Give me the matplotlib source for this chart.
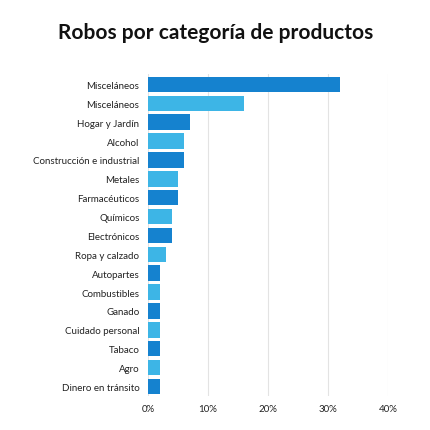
import numpy as np
import matplotlib.pyplot as plt

categorias = ["Misceláneos", "Misceláneos", "Hogar y Jardín", "Alcohol",
              "Construcción e industrial", "Metales", "Farmacéuticos", "Químicos",
              "Electrónicos", "Ropa y calzado", "Autopartes", "Combustibles",
              "Ganado", "Cuidado personal", "Tabaco", "Agro", "Dinero en tránsito"]
valores = [32, 16, 7, 6, 6, 5, 5, 4, 4, 3, 2, 2, 2, 2, 2, 2, 2]

plt.rcParams['font.family'] = ['Lato', 'DejaVu Sans']

fig = plt.figure(figsize=(4.31, 4.31), dpi=100)
ax = fig.add_axes([0.343, 0.079, 0.557, 0.747])

colores = ["#1582cf" if i % 2 == 0 else "#3db5e6" for i in range(len(valores))]
y = np.arange(len(valores))
ax.barh(y, valores, color=colores, height=0.82, zorder=3)
ax.set_yticks(y)
ax.set_yticklabels(categorias, fontsize=7, color="#222222")
ax.set_ylim(len(valores) - 0.5, -0.55)
ax.set_xlim(0, 40)
ax.set_xticks([0, 10, 20, 30, 40])
ax.set_xticklabels(["0%", "10%", "20%", "30%", "40%"], fontsize=7, color="#222222")
ax.grid(axis="x", color="#e3e3e3", linewidth=0.8, zorder=0)
for s in ax.spines.values():
    s.set_visible(False)
ax.tick_params(length=0, pad=6)

fig.text(0.5, 0.91, "Robos por categoría de productos", ha="center",
         fontsize=15, fontweight="bold", color="#111111")

fig.savefig("out.png", dpi=100, facecolor="white")
